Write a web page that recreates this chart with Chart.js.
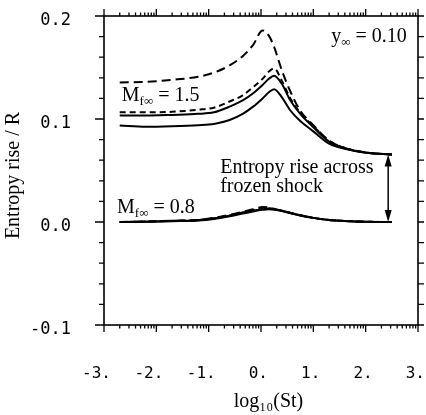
<!DOCTYPE html>
<html>
<head>
<meta charset="utf-8">
<script src="https://cdn.jsdelivr.net/npm/chart.js@4/dist/chart.umd.min.js"></script>
<style>
html, body { margin: 0; padding: 0; background: #fff; }
#wrap { width: 426px; height: 415px; }
</style>
</head>
<body>
<div id="wrap"><canvas id="chartCanvas" width="426" height="415"></canvas></div>
<script>
// log10(St) sample points shared by every curve
var logSt = [-2.7, -2.2, -1.7, -1.2, -0.9, -0.6, -0.35, -0.15, 0.03, 0.15, 0.25, 0.4, 0.55, 0.75, 1.0, 1.3, 1.6, 2.0, 2.5];

// M = 1.5 group
var m15LongDash = [0.1355, 0.136, 0.138, 0.141, 0.145, 0.152, 0.161, 0.172, 0.186, 0.181, 0.170, 0.147, 0.128, 0.108, 0.094, 0.079, 0.072, 0.0675, 0.0655];
var m15Dash     = [0.1065, 0.1065, 0.107, 0.109, 0.111, 0.117, 0.123, 0.131, 0.139, 0.146, 0.149, 0.137, 0.121, 0.106, 0.093, 0.079, 0.072, 0.0675, 0.0655];
var m15Solid    = [0.1033, 0.1033, 0.104, 0.105, 0.1065, 0.112, 0.118, 0.125, 0.133, 0.139, 0.142, 0.134, 0.119, 0.105, 0.092, 0.078, 0.0715, 0.0675, 0.0655];
var m15SolidLow = [0.0936, 0.0925, 0.093, 0.094, 0.0952, 0.099, 0.105, 0.112, 0.120, 0.126, 0.129, 0.121, 0.109, 0.098, 0.088, 0.076, 0.071, 0.0672, 0.0655];

// M = 0.8 group
var m08LongDash = [0.0, 0.0005, 0.0012, 0.002, 0.004, 0.007, 0.010, 0.0125, 0.0145, 0.014, 0.0128, 0.011, 0.009, 0.0065, 0.004, 0.002, 0.001, 0.0003, 0.0];
var m08Dash     = [0.0, 0.0004, 0.0011, 0.0019, 0.0037, 0.0064, 0.0093, 0.0115, 0.0133, 0.0134, 0.0126, 0.011, 0.009, 0.0065, 0.004, 0.002, 0.001, 0.0003, 0.0];
var m08Solid    = [0.0, 0.0003, 0.001, 0.0018, 0.0035, 0.006, 0.009, 0.011, 0.0125, 0.013, 0.0125, 0.011, 0.009, 0.0065, 0.004, 0.002, 0.001, 0.0003, 0.0];
var m08SolidLow = [0.0, 0.0002, 0.0008, 0.0015, 0.003, 0.0055, 0.0083, 0.0103, 0.0118, 0.0124, 0.012, 0.0107, 0.0088, 0.0064, 0.004, 0.002, 0.001, 0.0003, 0.0];

var xTickValues = [-3, -2, -1, 0, 1, 2, 3];
var xTickLabels = ['-3.', '-2.', '-1.', '0.', '1.', '2.', '3.'];
var yTickValues = [-0.1, 0.0, 0.1, 0.2];
var yTickLabels = ['-0.1', '0.0', '0.1', '0.2'];

var serif = "'Liberation Serif', 'Times New Roman', serif";
var mono = "'DejaVu Sans Mono', monospace";

function makeSet(values, dash) {
    return {
        data: logSt.map(function (x, i) { return { x: x, y: values[i] }; }),
        borderColor: '#000',
        borderWidth: 2,
        borderDash: dash,
        pointRadius: 0,
        fill: false,
        cubicInterpolationMode: 'monotone'
    };
}

// draws "main" text with small lowered pieces
function richText(ctx, x, y, parts) {
    parts.forEach(function (p) {
        ctx.font = p.sub ? '13px ' + serif : '20px ' + serif;
        ctx.fillText(p.t, x, y + (p.sub ? 4 : 0));
        x += ctx.measureText(p.t).width;
    });
}

function noPadding(scale) {
    scale.paddingTop = 0;
    scale.paddingBottom = 0;
    scale.paddingLeft = 0;
    scale.paddingRight = 0;
}

var framePlugin = {
    id: 'frame',
    afterDatasetsDraw: function (chart) {
        var ctx = chart.ctx;
        var a = chart.chartArea;
        var xs = chart.scales.x;
        var ys = chart.scales.y;
        ctx.save();
        ctx.strokeStyle = '#000';
        ctx.fillStyle = '#000';
        ctx.lineWidth = 1.6;
        ctx.strokeRect(a.left, a.top, a.right - a.left, a.bottom - a.top);

        ctx.lineWidth = 1.3;
        ctx.beginPath();
        xTickValues.forEach(function (v) {
            var p = xs.getPixelForValue(v);
            ctx.moveTo(p, a.bottom); ctx.lineTo(p, a.bottom + 7);
            ctx.moveTo(p, a.top); ctx.lineTo(p, a.top - 7);
        });
        for (var n = -3; n < 3; n++) {
            for (var k = 2; k <= 9; k++) {
                var p = xs.getPixelForValue(n + Math.log10(k));
                ctx.moveTo(p, a.bottom); ctx.lineTo(p, a.bottom + 3.5);
                ctx.moveTo(p, a.top); ctx.lineTo(p, a.top - 3.5);
            }
        }
        for (var i = 0; i <= 15; i++) {
            var v = -0.1 + i * 0.02;
            var q = ys.getPixelForValue(v);
            var major = i % 5 === 0;
            ctx.moveTo(a.left, q); ctx.lineTo(a.left - (major ? 9 : 5), q);
            ctx.moveTo(a.right, q); ctx.lineTo(a.right + 6, q);
        }
        ctx.stroke();

        // annotations
        ctx.textBaseline = 'alphabetic';
        ctx.textAlign = 'left';
        richText(ctx, xs.getPixelForValue(1.34), ys.getPixelForValue(0.1748),
            [{ t: 'y' }, { t: '\u221e', sub: true }, { t: ' = 0.10' }]);
        richText(ctx, xs.getPixelForValue(-2.66), ys.getPixelForValue(0.117),
            [{ t: 'M' }, { t: 'f\u221e', sub: true }, { t: ' = 1.5' }]);
        richText(ctx, xs.getPixelForValue(-2.75), ys.getPixelForValue(0.0092),
            [{ t: 'M' }, { t: 'f\u221e', sub: true }, { t: ' = 0.8' }]);
        richText(ctx, xs.getPixelForValue(-0.78), ys.getPixelForValue(0.0476), [{ t: 'Entropy rise across' }]);
        richText(ctx, xs.getPixelForValue(-0.78), ys.getPixelForValue(0.0296), [{ t: 'frozen shock' }]);

        // double arrow between the two plateaus
        var ax = xs.getPixelForValue(2.43);
        var y1 = ys.getPixelForValue(0.0655);
        var y2 = ys.getPixelForValue(0.0);
        ctx.lineWidth = 1.5;
        ctx.beginPath();
        ctx.moveTo(ax, y1 + 10); ctx.lineTo(ax, y2 - 10);
        ctx.stroke();
        ctx.beginPath();
        ctx.moveTo(ax, y1); ctx.lineTo(ax - 3.5, y1 + 12); ctx.lineTo(ax + 3.5, y1 + 12); ctx.closePath();
        ctx.moveTo(ax, y2); ctx.lineTo(ax - 3.5, y2 - 12); ctx.lineTo(ax + 3.5, y2 - 12); ctx.closePath();
        ctx.fill();
        ctx.restore();
    }
};

var ctx = document.getElementById('chartCanvas').getContext('2d');
var chart = new Chart(ctx, {
    type: 'line',
    data: {
        datasets: [
            makeSet(m15LongDash, [9, 5]),
            makeSet(m15Dash, [6, 4]),
            makeSet(m15Solid, []),
            makeSet(m15SolidLow, []),
            makeSet(m08LongDash, [9, 5]),
            makeSet(m08Dash, [6, 4]),
            makeSet(m08Solid, []),
            makeSet(m08SolidLow, [])
        ]
    },
    options: {
        responsive: false,
        animation: false,
        devicePixelRatio: 1,
        layout: { padding: { top: 16, right: 8, left: 0, bottom: 0 } },
        plugins: { legend: { display: false }, tooltip: { enabled: false } },
        scales: {
            x: {
                type: 'linear',
                min: -3,
                max: 3,
                afterFit: function (scale) { scale.height = 90; noPadding(scale); },
                afterBuildTicks: function (scale) {
                    scale.ticks = xTickValues.map(function (v) { return { value: v }; });
                },
                ticks: {
                    callback: function (v, i) { return xTickLabels[i]; },
                    font: { family: mono, size: 16 },
                    color: '#000',
                    align: 'end',
                    labelOffset: 7,
                    padding: 31,
                    maxRotation: 0,
                    autoSkip: false
                },
                grid: { display: false },
                border: { display: false },
                title: {
                    display: true,
                    text: '   log\u2081\u2080(St)',
                    font: { family: serif, size: 20 },
                    color: '#000',
                    padding: { top: 0, bottom: 1 }
                }
            },
            y: {
                type: 'linear',
                min: -0.1,
                max: 0.2,
                afterFit: function (scale) { scale.width = 104; noPadding(scale); },
                afterBuildTicks: function (scale) {
                    scale.ticks = yTickValues.map(function (v) { return { value: v }; });
                },
                ticks: {
                    callback: function (v, i) { return yTickLabels[i]; },
                    font: { family: mono, size: 17 },
                    color: '#000',
                    padding: 25,
                    labelOffset: 5,
                    autoSkip: false
                },
                grid: { display: false },
                border: { display: false },
                title: {
                    display: true,
                    text: 'Entropy rise / R  ',
                    font: { family: serif, size: 20 },
                    color: '#000',
                    padding: { top: 2, bottom: 0 }
                }
            }
        }
    },
    plugins: [framePlugin]
});
</script>
</body>
</html>
